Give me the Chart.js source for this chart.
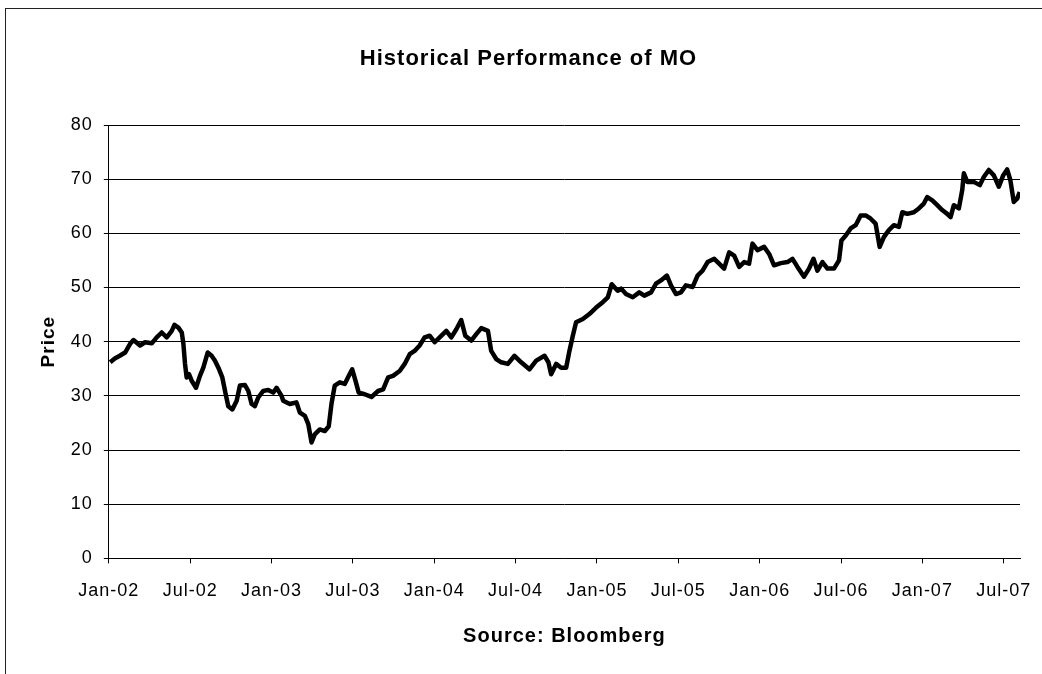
<!DOCTYPE html>
<html>
<head>
<meta charset="utf-8">
<script src="https://cdn.jsdelivr.net/npm/chart.js@4/dist/chart.umd.min.js"></script>
<style>
  html, body { margin: 0; padding: 0; background: #fff; overflow: hidden; width: 1042px; height: 674px; }
  #wrap { position: relative; width: 1042px; height: 674px; }
  #frame { position: absolute; left: 5px; top: 8px; width: 1100px; height: 720px; border: 1px solid #222; box-sizing: border-box; pointer-events: none; }
  canvas { position: absolute; left: 0; top: 0; }
</style>
</head>
<body>
<div id="wrap">
  <canvas id="c" width="1042" height="674"></canvas>
  <div id="frame"></div>
</div>
<script>
// Months elapsed since Jan 2002 (decimal) for each observation
const months = [
  0.10, 0.44, 0.81, 1.20, 1.57, 1.82, 2.30, 2.67, 3.17, 3.53, 3.90, 4.27, 4.64, 4.84, 5.13, 5.38, 5.50, 5.62, 5.74, 5.91,
  6.11, 6.43, 6.72, 6.97, 7.29, 7.58, 7.83, 8.08, 8.37, 8.62, 8.81, 9.11, 9.43, 9.67, 10.04, 10.29, 10.53, 10.77, 11.02, 11.39,
  11.76, 12.13, 12.37, 12.74, 12.86, 13.35, 13.84, 14.09, 14.46, 14.71, 14.95, 15.19, 15.56, 15.93, 16.22, 16.42, 16.66, 17.03, 17.40, 17.70,
  17.95, 18.19, 18.43, 18.87, 19.37, 19.86, 20.23, 20.60, 20.96, 21.45, 21.82, 22.19, 22.55, 22.92, 23.29, 23.66, 24.03, 24.40, 24.89, 25.26,
  25.63, 25.99, 26.29, 26.73, 27.10, 27.47, 27.96, 28.20, 28.57, 28.94, 29.43, 29.92, 30.41, 31.02, 31.52, 32.13, 32.42, 32.62, 32.99, 33.36,
  33.73, 33.97, 34.22, 34.46, 34.96, 35.44, 35.94, 36.43, 36.80, 37.09, 37.53, 37.78, 38.14, 38.64, 39.12, 39.49, 39.99, 40.35, 40.72, 41.16,
  41.46, 41.83, 42.19, 42.56, 43.06, 43.42, 43.79, 44.16, 44.65, 45.01, 45.38, 45.75, 46.12, 46.49, 46.86, 47.22, 47.47, 47.84, 48.33, 48.70,
  49.06, 49.56, 50.05, 50.42, 50.79, 51.27, 51.64, 51.97, 52.26, 52.63, 53.00, 53.48, 53.85, 54.03, 54.35, 54.71, 55.08, 55.45, 55.82, 56.19,
  56.55, 56.85, 57.16, 57.53, 57.90, 58.27, 58.52, 58.89, 59.37, 59.74, 60.11, 60.36, 60.73, 61.10, 61.46, 61.83, 62.08, 62.32, 62.69, 62.94,
  63.06, 63.31, 63.79, 64.24, 64.53, 64.90, 65.27, 65.64, 65.96, 66.25, 66.49, 66.74, 66.99, 67.18
];
// MO price (USD)
const prices = [
  36.2, 36.9, 37.4, 38.0, 39.6, 40.3, 39.3, 39.9, 39.7, 40.8, 41.7, 40.8, 42.0, 43.1, 42.6, 41.7, 39.6, 35.9, 33.4, 34.0,
  32.8, 31.5, 33.7, 35.2, 38.0, 37.4, 36.5, 35.2, 33.4, 30.3, 28.1, 27.5, 29.1, 31.9, 32.0, 30.9, 28.5, 28.1, 29.7, 30.9,
  31.1, 30.6, 31.5, 30.0, 29.1, 28.5, 28.8, 26.9, 26.3, 24.8, 21.4, 22.9, 23.8, 23.5, 24.4, 28.5, 31.9, 32.5, 32.2, 33.7,
  34.9, 32.8, 30.6, 30.3, 29.8, 30.9, 31.2, 33.4, 33.7, 34.6, 35.9, 37.7, 38.3, 39.3, 40.8, 41.1, 39.9, 40.8, 42.0, 40.8,
  42.3, 44.0, 41.1, 40.2, 41.4, 42.5, 42.0, 38.3, 36.8, 36.2, 35.9, 37.4, 36.2, 34.9, 36.5, 37.4, 36.2, 34.0, 35.9, 35.2,
  35.2, 38.3, 41.1, 43.6, 44.2, 45.1, 46.3, 47.3, 48.2, 50.6, 49.4, 49.8, 48.8, 48.2, 49.1, 48.5, 49.1, 50.7, 51.3, 52.2,
  50.4, 48.8, 49.1, 50.4, 50.1, 52.2, 53.1, 54.7, 55.3, 54.4, 53.5, 56.5, 55.9, 53.8, 54.7, 54.4, 58.1, 56.9, 57.5, 56.2,
  54.1, 54.5, 54.7, 55.3, 53.8, 52.0, 53.5, 55.3, 53.1, 54.7, 53.5, 53.5, 55.0, 58.7, 59.6, 60.9, 61.5, 63.3, 63.3, 62.7,
  61.8, 57.5, 59.3, 60.6, 61.5, 61.2, 63.9, 63.6, 63.9, 64.6, 65.5, 66.7, 66.1, 65.2, 64.3, 63.6, 63.0, 65.2, 64.6, 68.0,
  71.1, 69.5, 69.5, 68.9, 70.4, 71.7, 70.7, 68.6, 70.7, 71.8, 69.8, 65.8, 66.4, 67.6
];
const tickLabels = ['Jan-02','Jul-02','Jan-03','Jul-03','Jan-04','Jul-04','Jan-05','Jul-05','Jan-06','Jul-06','Jan-07','Jul-07'];
const tickMonths = tickLabels.map((_, i) => i * 6);
const xMax = 67.2;

const points = months.map((m, i) => ({ x: m, y: prices[i] }));
const FONT = '"Liberation Sans", Arial, sans-serif';

const spacing = {
  id: 'spacing',
  beforeUpdate(chart) { chart.ctx.letterSpacing = '1px'; },
  beforeDraw(chart) { chart.ctx.letterSpacing = '1px'; }
};

new Chart(document.getElementById('c'), {
  type: 'line',
  data: {
    datasets: [{
      data: points,
      borderColor: '#000',
      borderWidth: 4.5,
      pointRadius: 0,
      tension: 0,
      borderJoinStyle: 'round',
      fill: false
    }]
  },
  options: {
    responsive: false,
    animation: false,
    layout: { padding: { top: 46, left: 37, right: 22, bottom: 26 } },
    plugins: {
      legend: { display: false },
      tooltip: { enabled: false },
      title: {
        display: true,
        text: 'Historical Performance of MO',
        color: '#000',
        font: { family: FONT, size: 22, weight: 'bold' },
        padding: { top: 0, bottom: 52.6 }
      }
    },
    scales: {
      x: {
        type: 'linear',
        min: 0,
        max: xMax,
        afterBuildTicks: (s) => { s.ticks = tickMonths.map(v => ({ value: v })); },
        afterFit: (s) => { s.paddingRight = 0; },
        ticks: {
          autoSkip: false,
          maxRotation: 0,
          color: '#000',
          font: { family: FONT, size: 18 },
          padding: 17,
          callback: (v) => { const i = tickMonths.indexOf(v); return i >= 0 ? tickLabels[i] : ''; }
        },
        grid: { drawOnChartArea: false, drawTicks: true, tickLength: 5, color: '#000', lineWidth: 1 },
        border: { display: true, color: '#000', width: 1 },
        title: {
          display: true,
          text: 'Source: Bloomberg',
          color: '#000',
          font: { family: FONT, size: 20, weight: 'bold' },
          padding: { top: 5, bottom: 0 }
        }
      },
      y: {
        min: 0,
        max: 80,
        ticks: {
          stepSize: 10,
          color: '#000',
          font: { family: FONT, size: 18 },
          padding: 11
        },
        grid: { color: '#000', lineWidth: 1, drawTicks: true, tickLength: 5 },
        border: { display: true, color: '#000', width: 1 },
        title: {
          display: true,
          text: 'Price',
          color: '#000',
          font: { family: FONT, size: 19, weight: 'bold' },
          padding: { top: 0, bottom: 0 }
        }
      }
    }
  },
  plugins: [spacing]
});
</script>
</body>
</html>
